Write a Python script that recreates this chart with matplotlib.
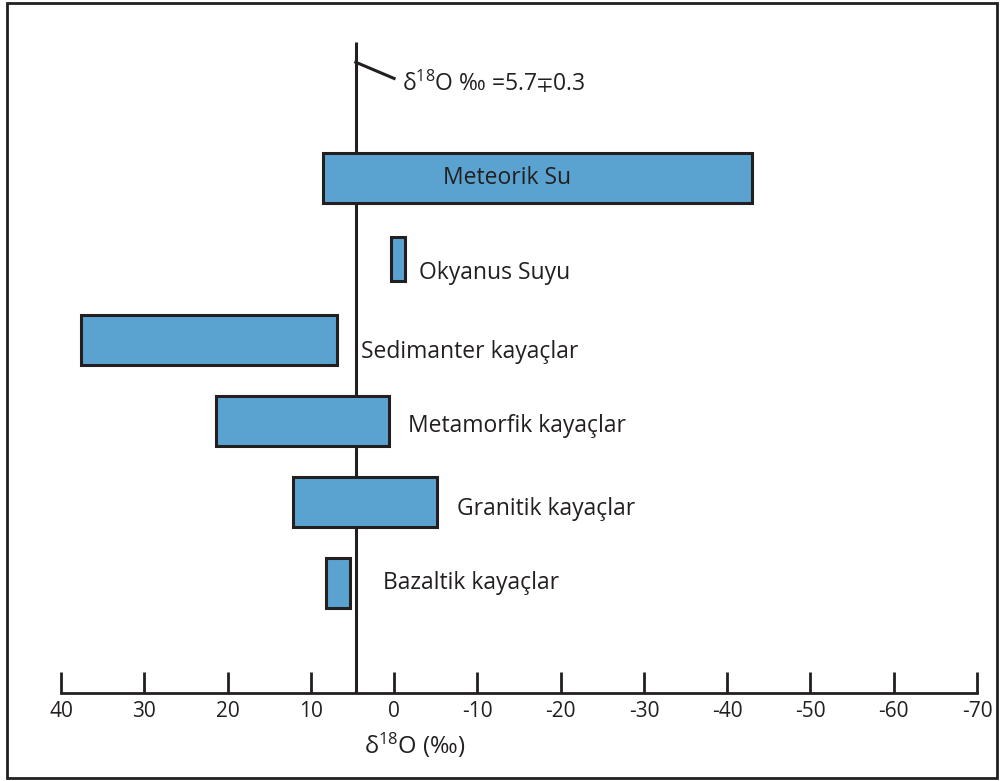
import numpy as np
import matplotlib
matplotlib.use("Agg")
import matplotlib.pyplot as plt
from matplotlib.patches import Rectangle

plt.rcParams['font.family'] = ['Open Sans', 'DejaVu Sans']
plt.rcParams['mathtext.fontset'] = 'custom'
plt.rcParams['mathtext.rm'] = 'Open Sans'
plt.rcParams['mathtext.it'] = 'Open Sans:italic'
plt.rcParams['mathtext.fallback'] = 'stixsans'

# delta 18O ranges (per mil)
groups = ['Meteorik Su', 'Okyanus Suyu', 'Sedimanter kayaçlar',
          'Metamorfik kayaçlar', 'Granitik kayaçlar', 'Bazaltik kayaçlar']
high = [8.5, 0.4, 37.6, 21.4, 12.1, 8.2]
low = [-43.0, -1.3, 6.9, 0.6, -5.2, 5.3]
row = [5, 4, 3, 2, 1, 0]
mantle = 4.6
ticks = [40, 30, 20, 10, 0, -10, -20, -30, -40, -50, -60, -70]

ink = '#231f20'
blue = '#5aa3d0'

fig = plt.figure(figsize=(10.02, 7.81), dpi=100)
ax = fig.add_axes([61/1002, 88/781, 916/1002, 651/781])
ax.set_xlim(40, -70)
ax.set_ylim(-1.36, 6.68)

# mantle reference line (drawn under bars)
ax.plot([mantle, mantle], [-1.36, 6.68], color=ink, lw=2.2, zorder=1,
        solid_capstyle='butt')
ax.plot([mantle, 0.0], [6.43, 6.23], color=ink, lw=2.2, zorder=1)
ax.text(-0.9, 6.17, r'δ$^{18}$O ‰ =5.7$\mp$0.3', fontsize=16.5, color=ink,
        va='center', ha='left')

for i, g in enumerate(groups):
    h = 0.54 if g == 'Okyanus Suyu' else 0.62
    ax.barh(row[i], low[i] - high[i], left=high[i], height=h, color=blue,
            edgecolor=ink, linewidth=2.2, zorder=2)

# labels
ax.annotate(groups[0], xy=((high[0] + low[0]) / 2, row[0]), xytext=(-22, 0),
            textcoords='offset points', ha='center', va='center',
            fontsize=16.5, color=ink, zorder=3)
offsets = [None, (10, -10), (17.5, -9), (13.5, -4), (14.4, -5.4), (24, 0)]
for i in range(1, len(groups)):
    ax.annotate(groups[i], xy=(low[i], row[i]), xytext=offsets[i],
                textcoords='offset points', ha='left', va='center',
                fontsize=16.5, color=ink)

for s in ['top', 'right', 'left']:
    ax.spines[s].set_visible(False)
ax.spines['bottom'].set_linewidth(2.0)
ax.spines['bottom'].set_color(ink)
ax.set_yticks([])
ax.set_xticks(ticks)
ax.set_xticklabels([str(t) for t in ticks])
ax.tick_params(axis='x', direction='in', length=15, width=2.0, color=ink,
               labelsize=15, labelcolor=ink, pad=6)

ax.annotate(r'δ$^{18}$O (‰)', xy=(-2.5, 0), xycoords=('data', 'axes fraction'),
            xytext=(0, -38), textcoords='offset points', ha='center',
            va='center', fontsize=17, color=ink, annotation_clip=False)

fig.patches.append(Rectangle((7/1002, 3/781), 990/1002, 775/781,
                             transform=fig.transFigure, fill=False,
                             edgecolor=ink, linewidth=2.0))

fig.savefig('out.png', dpi=100)
